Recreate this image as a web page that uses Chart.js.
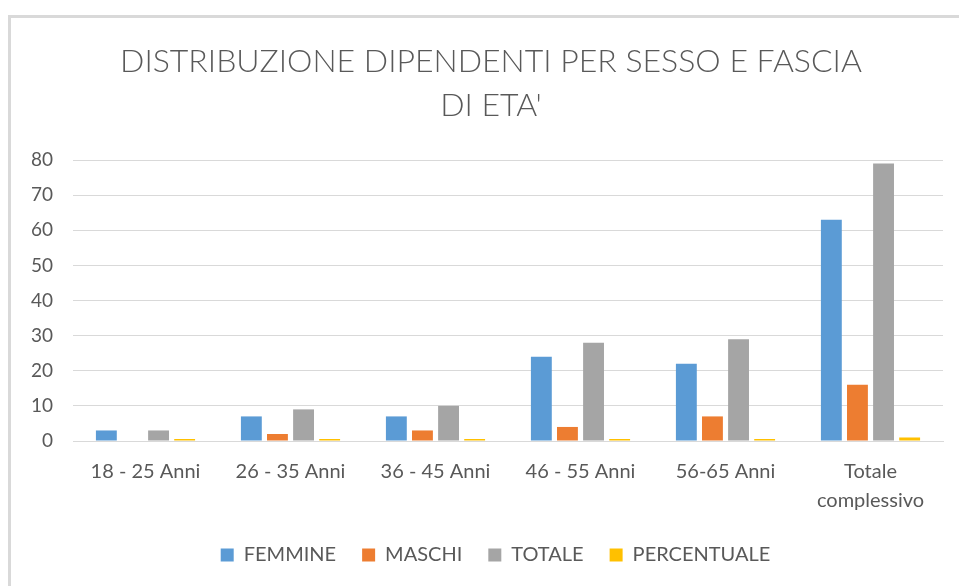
<!DOCTYPE html>
<html>
<head>
<meta charset="utf-8">
<script src="https://cdn.jsdelivr.net/npm/chart.js@4"></script>
<style>
html,body{margin:0;padding:0;background:#fff;overflow:hidden;}
#frame{position:absolute;left:8px;top:15px;width:1000px;height:700px;border-left:3px solid #d9d9d9;border-top:3px solid #d9d9d9;}
#wrap{position:absolute;left:0;top:0;width:959px;height:586px;}
</style>
</head>
<body>
<div id="frame"></div>
<div id="wrap"><canvas id="c" width="959" height="586"></canvas></div>
<script>
const categories = ["18 - 25 Anni", "26 - 35 Anni", "36 - 45 Anni", "46 - 55 Anni", "56-65 Anni", ["Totale", "complessivo"]];
const femmine = [3, 7, 7, 24, 22, 63];
const maschi = [0, 2, 3, 4, 7, 16];
const totale = [3, 9, 10, 28, 29, 79];
const percentuale = [0.04, 0.11, 0.13, 0.35, 0.37, 1];
const titleLines = ["DISTRIBUZIONE DIPENDENTI PER SESSO E FASCIA", "DI ETA'"];

const textColor = '#595959';
const gridColor = '#d9d9d9';

function ds(label, data, color, extra) {
  return Object.assign({ label, data, backgroundColor: color, borderColor: color, borderWidth: 0,
           barPercentage: 0.8, categoryPercentage: 0.72 }, extra || {});
}

const titlePlugin = {
  id: 'excelTitle',
  afterLayout(chart) {
    if (chart.legend) { chart.legend.left += 19; chart.legend.right += 19; }
  },
  afterDraw(chart) {
    const ctx = chart.ctx;
    ctx.save();
    ctx.fillStyle = textColor;
    ctx.font = '300 32px Lato';
    ctx.textAlign = 'center';
    ctx.textBaseline = 'alphabetic';
    ctx.fillText(titleLines[0], 491, 72);
    ctx.fillText(titleLines[1], 491, 116);
    ctx.restore();
  }
};

new Chart(document.getElementById('c'), {
  type: 'bar',
  data: {
    labels: categories,
    datasets: [
      ds('FEMMINE', femmine, '#5B9BD5'),
      ds('MASCHI', maschi, '#ED7D31'),
      ds('TOTALE', totale, '#A5A5A5'),
      ds('PERCENTUALE', percentuale, '#FFC000', { minBarLength: 2 })
    ]
  },
  plugins: [titlePlugin],
  options: {
    responsive: false,
    animation: false,
    layout: { padding: { left: 10, right: 16, top: 160, bottom: 11 } },
    plugins: {
      tooltip: { enabled: false },
      title: { display: false },
      legend: {
        position: 'bottom',
        labels: {
          color: textColor,
          font: { family: 'Lato', size: 20 },
          boxWidth: 13, boxHeight: 13,
          padding: 26
        }
      }
    },
    scales: {
      x: {
        grid: { display: false, drawTicks: false },
        border: { color: gridColor },
        ticks: { color: textColor, font: { family: 'Lato', size: 20, lineHeight: 1.45 }, padding: 16, maxRotation: 0, autoSkip: false },
        afterFit: (s) => { s.height = s.height - 12; }
      },
      y: {
        min: 0, max: 80,
        grid: { color: gridColor, drawTicks: false, lineWidth: 1 },
        border: { display: false },
        ticks: { stepSize: 10, color: textColor, font: { family: 'Lato', size: 19 }, padding: 20 },
        afterFit: (s) => { s.width = 63; }
      }
    }
  }
});
</script>
</body>
</html>
